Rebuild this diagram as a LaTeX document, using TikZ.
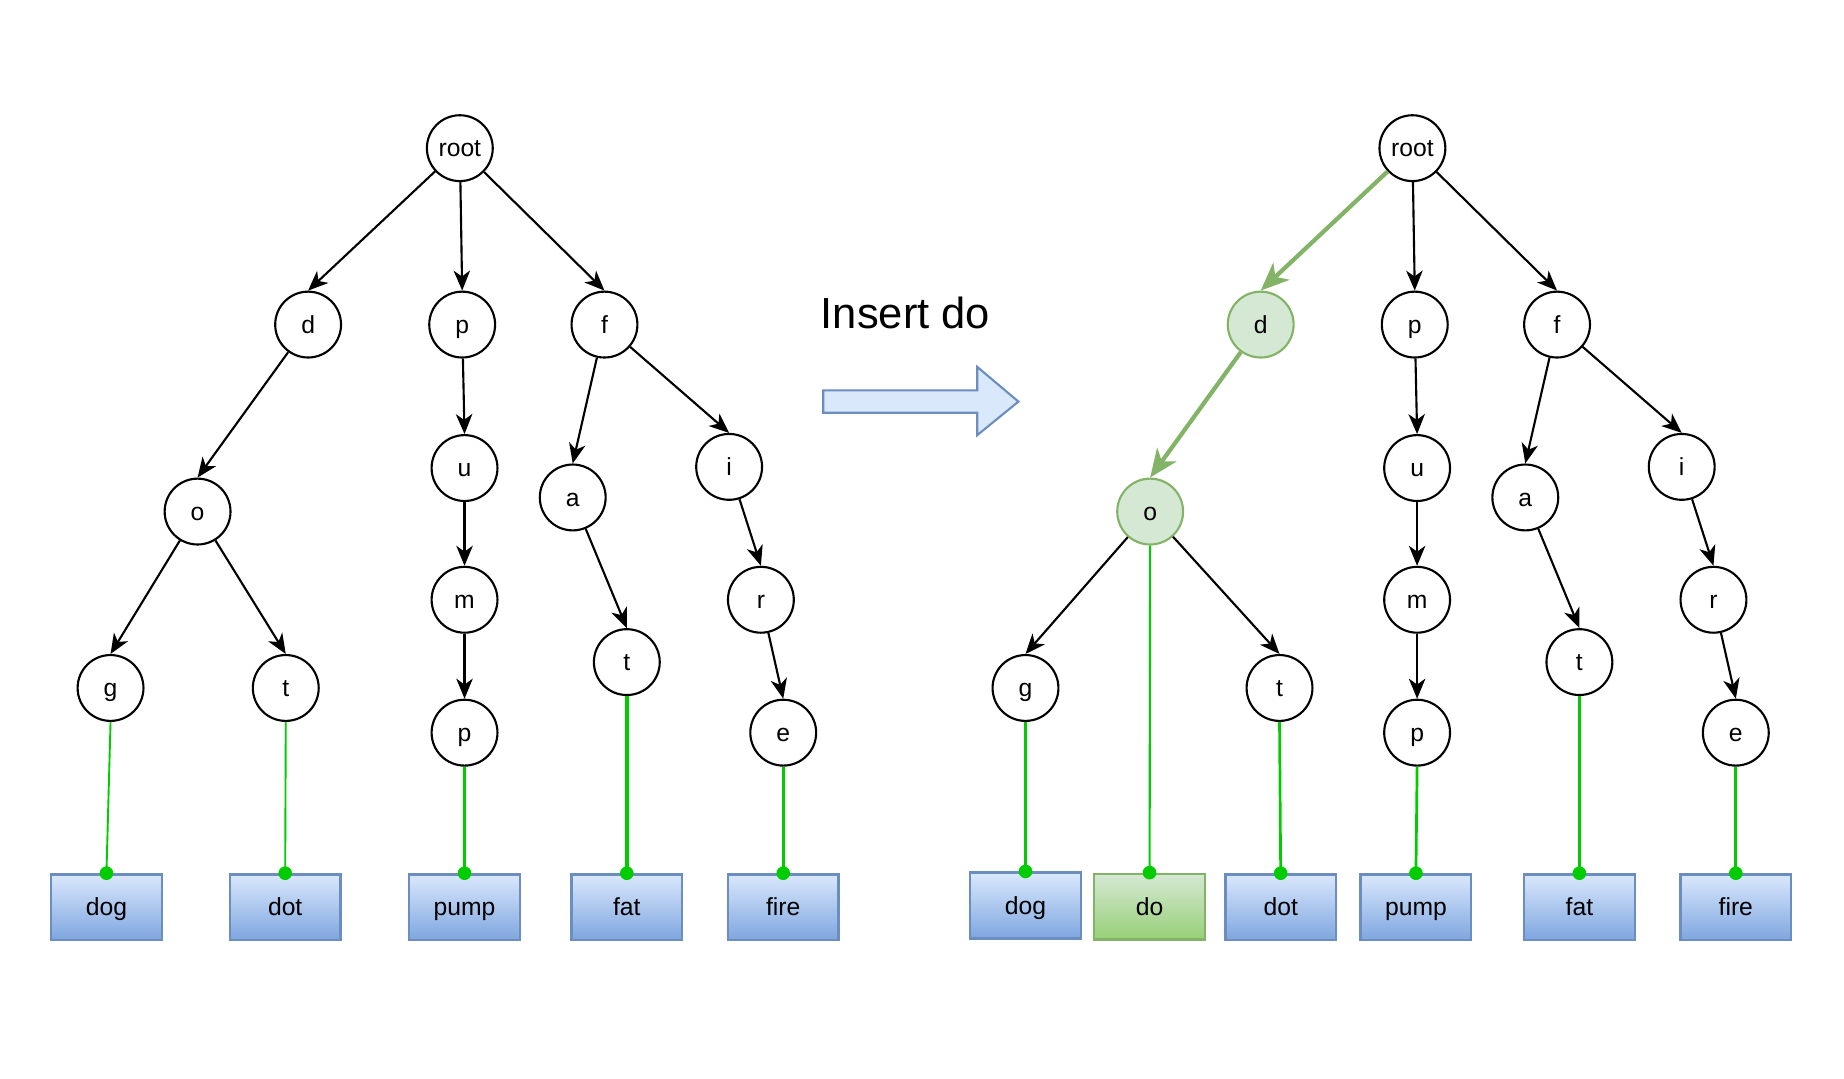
\documentclass[tikz,border=0pt]{standalone}
\usepackage{fontspec}
\setmainfont{Liberation Sans}
\usetikzlibrary{arrows.meta}
\definecolor{gstroke}{HTML}{82B366}
\definecolor{gfill}{HTML}{D5E8D4}
\definecolor{ggrad}{HTML}{97D077}
\definecolor{leafg}{HTML}{00CC00}
\definecolor{bstroke}{HTML}{6C8EBF}
\definecolor{bfill}{HTML}{DAE8FC}
\definecolor{bgrad}{HTML}{7EA6E0}
\tikzset{
  tnode/.style={circle,draw=black,line width=1.8pt,minimum size=56pt,inner sep=0pt,
    font=\fontsize{21}{25}\selectfont,text height=19pt,text depth=4.45pt},
  gnode/.style={tnode,draw=gstroke,fill=gfill},
  leafbox/.style={rectangle,draw=bstroke,line width=2pt,minimum width=94pt,minimum height=56pt,
    inner sep=0pt,top color=bfill,bottom color=bgrad,font=\fontsize{21}{25}\selectfont,
    text height=19pt,text depth=4.45pt},
  gleafbox/.style={leafbox,draw=gstroke,top color=gfill,bottom color=ggrad},
  edge/.style={line width=1.8pt,-{Stealth[length=17pt,width=14pt,inset=5pt]}},
  gedge/.style={line width=3.6pt,draw=gstroke,-{Stealth[length=24pt,width=20pt,inset=7pt]}},
  leafline/.style={line width=2.3pt,draw=leafg},
  dotmark/.style={fill=leafg},
}
\begin{document}
\begin{tikzpicture}[x=1pt,y=-1pt]
\useasboundingbox (0,0) rectangle (1568,917);

% ---------- left tree ----------
\node[tnode] (Lroot) at (391,126) {root};
\node[tnode] (Ld) at (262,276) {d};
\node[tnode] (Lp) at (393,276) {p};
\node[tnode] (Lf) at (514,276) {f};
\node[tnode] (Lo) at (168,435) {o};
\node[tnode] (Lu) at (395,398) {u};
\node[tnode] (La) at (487,423) {a};
\node[tnode] (Li) at (620,397) {i};
\node[tnode] (Lg) at (94,585) {g};
\node[tnode] (Lt) at (243,585) {t};
\node[tnode] (Lm) at (395,510) {m};
\node[tnode] (Lt2) at (533,563) {t};
\node[tnode] (Lr) at (647,510) {r};
\node[tnode] (Lp2) at (395,623) {p};
\node[tnode] (Le) at (666,623) {e};

\node[leafbox] (Ldog) at (90.5,771.5) {dog};
\node[leafbox] (Ldot) at (242.5,771.5) {dot};
\node[leafbox] (Lpump) at (395,771.5) {pump};
\node[leafbox] (Lfat) at (533,771.5) {fat};
\node[leafbox] (Lfire) at (666,771.5) {fire};

\draw[edge] (Lroot) -- (Ld.north);
\draw[edge] (Lroot) -- (Lp.north);
\draw[edge] (Lroot) -- (Lf.north);
\draw[edge] (Ld) -- (Lo.north);
\draw[edge] (Lp) -- (Lu.north);
\draw[edge] (Lf) -- (La.north);
\draw[edge] (Lf) -- (Li.north);
\draw[edge] (Lo) -- (Lg.north);
\draw[edge] (Lo) -- (Lt.north);
\draw[edge] (Lu) -- (Lm.north);
\draw[edge] (Lm) -- (Lp2.north);
\draw[edge] (La) -- (Lt2.north);
\draw[edge] (Li) -- (Lr.north);
\draw[edge] (Lr) -- (Le.north);

\draw[leafline,line width=1.6pt] (Lg.south) -- (Ldog.north);
\draw[leafline,line width=1.6pt] (Lt.south) -- (Ldot.north);
\draw[leafline] (Lp2.south) -- (Lpump.north);
\draw[leafline,line width=3pt] (Lt2.south) -- (Lfat.north);
\draw[leafline] (Le.south) -- (Lfire.north);
\foreach \b in {Ldog,Ldot,Lpump,Lfat,Lfire} \fill[dotmark] (\b.north) circle (5.8pt);

% ---------- arrow and label ----------
\node[font=\fontsize{37}{44}\selectfont,inner sep=0pt] (label) at (770,266) {Insert do};
\draw[draw=bstroke,fill=bfill,line width=1.8pt,line join=miter]
  (700,332) -- (831,332) -- (831,312) -- (866,341.5) -- (831,370) -- (831,351) -- (700,351) -- cycle;

% ---------- right tree ----------
\node[tnode] (Rroot) at (1201,126) {root};
\node[gnode] (Rd) at (1072,276) {d};
\node[tnode] (Rp) at (1203,276) {p};
\node[tnode] (Rf) at (1324,276) {f};
\node[gnode] (Ro) at (978,435) {o};
\node[tnode] (Ru) at (1205,398) {u};
\node[tnode] (Ra) at (1297,423) {a};
\node[tnode] (Ri) at (1430,397) {i};
\node[tnode] (Rg) at (872,585) {g};
\node[tnode] (Rt) at (1088,585) {t};
\node[tnode] (Rm) at (1205,510) {m};
\node[tnode] (Rt2) at (1343,563) {t};
\node[tnode] (Rr) at (1457,510) {r};
\node[tnode] (Rp2) at (1205,623) {p};
\node[tnode] (Re) at (1476,623) {e};

\node[leafbox] (Rdog) at (872,770) {dog};
\node[gleafbox] (Rdo) at (977.5,771) {do};
\node[leafbox] (Rdot) at (1089,771.5) {dot};
\node[leafbox] (Rpump) at (1204,771.5) {pump};
\node[leafbox] (Rfat) at (1343,771.5) {fat};
\node[leafbox] (Rfire) at (1476,771.5) {fire};

\draw[gedge] (Rroot) -- (Rd.north);
\draw[edge] (Rroot) -- (Rp.north);
\draw[edge] (Rroot) -- (Rf.north);
\draw[gedge] (Rd) -- (Ro.north);
\draw[edge] (Rp) -- (Ru.north);
\draw[edge] (Rf) -- (Ra.north);
\draw[edge] (Rf) -- (Ri.north);
\draw[edge] (Ro) -- (Rg.north);
\draw[edge] (Ro) -- (Rt.north);
\draw[edge] (Ru) -- (Rm.north);
\draw[edge] (Rm) -- (Rp2.north);
\draw[edge] (Ra) -- (Rt2.north);
\draw[edge] (Ri) -- (Rr.north);
\draw[edge] (Rr) -- (Re.north);

\draw[leafline] (Rg.south) -- (Rdog.north);
\draw[leafline,line width=1.8pt] (Ro.south) -- (Rdo.north);
\draw[leafline] (Rt.south) -- (Rdot.north);
\draw[leafline] (Rp2.south) -- (Rpump.north);
\draw[leafline] (Rt2.south) -- (Rfat.north);
\draw[leafline] (Re.south) -- (Rfire.north);
\foreach \b in {Rdog,Rdo,Rdot,Rpump,Rfat,Rfire} \fill[dotmark] (\b.north) circle (5.8pt);
\end{tikzpicture}
\end{document}
